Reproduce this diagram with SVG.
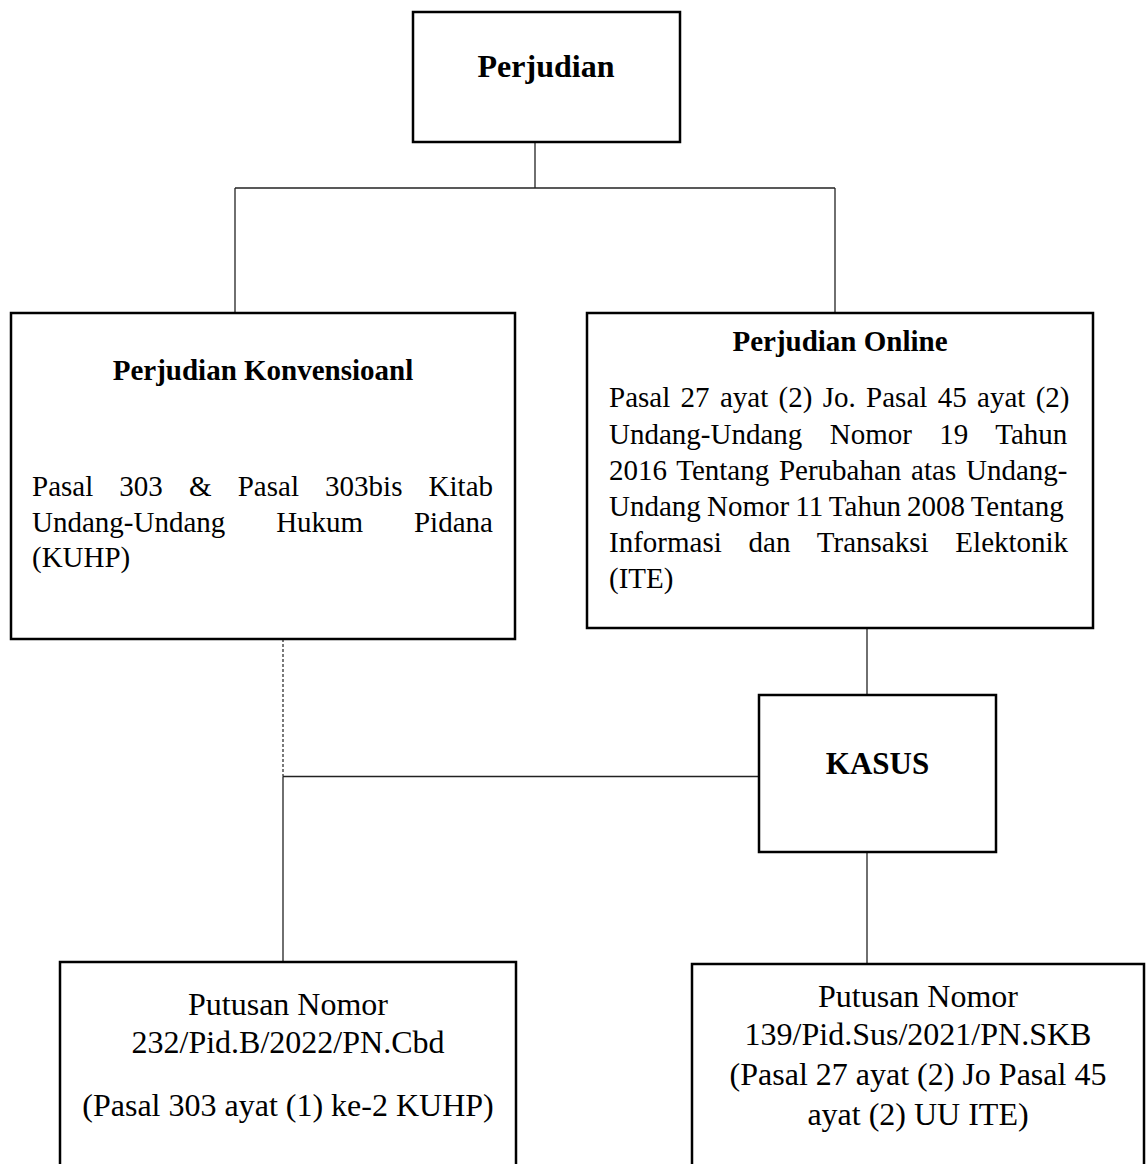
<svg xmlns="http://www.w3.org/2000/svg" width="1147" height="1164" viewBox="0 0 1147 1164">
<style>
.box{fill:#fff;stroke:#000;stroke-width:2.5}
.ln{stroke:#222;stroke-width:1.3;fill:none}
.dash{stroke:#333;stroke-width:1.3;fill:none;stroke-dasharray:3 2}
text{font-family:"Liberation Serif","Times New Roman",serif;fill:#000}
.b{font-weight:bold}
.c{text-anchor:middle}
.m{font-size:29px}
.l{font-size:32px}
</style>
<rect width="1147" height="1164" fill="#fff"/>
<g id="connectors">
<line class="ln" x1="535" y1="142" x2="535" y2="188"/>
<line class="ln" x1="235" y1="188" x2="835" y2="188"/>
<line class="ln" x1="235" y1="188" x2="235" y2="313"/>
<line class="ln" x1="835" y1="188" x2="835" y2="313"/>
<line class="ln" x1="867" y1="628" x2="867" y2="695"/>
<line class="dash" x1="283" y1="639" x2="283" y2="776.5"/>
<line class="ln" x1="283" y1="776.5" x2="759" y2="776.5"/>
<line class="ln" x1="283" y1="776.5" x2="283" y2="962"/>
<line class="ln" x1="867" y1="852" x2="867" y2="964"/>
</g>
<g id="perjudian">
<rect class="box" x="413" y="12" width="267" height="130"/>
<text class="b c l" x="546" y="77">Perjudian</text>
</g>
<g id="konvensional">
<rect class="box" x="11" y="313" width="504" height="326"/>
<text class="b c m" x="263" y="380">Perjudian Konvensioanl</text>
<text class="m" x="32" y="496" word-spacing="18.9">Pasal 303 &amp; Pasal 303bis Kitab</text>
<text class="m" x="32" y="531.5" word-spacing="43.6">Undang-Undang Hukum Pidana</text>
<text class="m" x="32" y="567">(KUHP)</text>
</g>
<g id="online">
<rect class="box" x="587" y="313" width="506" height="315"/>
<text class="b c m" x="840" y="351">Perjudian Online</text>
<text class="m" x="609" y="407" word-spacing="3.1">Pasal 27 ayat (2) Jo. Pasal 45 ayat (2)</text>
<text class="m" x="609" y="443.5" word-spacing="20.2">Undang-Undang Nomor 19 Tahun</text>
<text class="m" x="609" y="480" word-spacing="2.5">2016 Tentang Perubahan atas Undang-</text>
<text class="m" x="609" y="516" word-spacing="-1.1">Undang Nomor 11 Tahun 2008 Tentang</text>
<text class="m" x="609" y="552" word-spacing="19.6">Informasi dan Transaksi Elektonik</text>
<text class="m" x="609" y="588">(ITE)</text>
</g>
<g id="kasus">
<rect class="box" x="759" y="695" width="237" height="157"/>
<text class="b c" x="877.5" y="774" font-size="31">KASUS</text>
</g>
<g id="putusan1">
<rect class="box" x="60" y="962" width="456" height="230"/>
<text class="c l" x="288" y="1015">Putusan Nomor</text>
<text class="c l" x="288" y="1053">232/Pid.B/2022/PN.Cbd</text>
<text class="c l" x="288" y="1116">(Pasal 303 ayat (1) ke-2 KUHP)</text>
</g>
<g id="putusan2">
<rect class="box" x="692" y="964" width="452" height="230"/>
<text class="c l" x="918" y="1007">Putusan Nomor</text>
<text class="c l" x="918" y="1045">139/Pid.Sus/2021/PN.SKB</text>
<text class="c l" x="918" y="1085">(Pasal 27 ayat (2) Jo Pasal 45</text>
<text class="c l" x="918" y="1125">ayat (2) UU ITE)</text>
</g>
</svg>
